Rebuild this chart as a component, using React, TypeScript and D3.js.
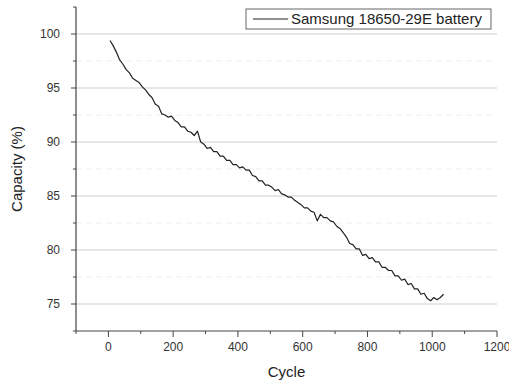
import React from "react";
import * as d3 from "d3";

const cycles = [
  5, 15, 25, 35, 45, 55, 65, 75, 85, 95,
  105, 115, 125, 135, 145, 155, 165, 175, 185, 195,
  205, 215, 225, 235, 245, 255, 265, 275, 285, 295,
  305, 315, 325, 335, 345, 355, 365, 375, 385, 395,
  405, 415, 425, 435, 445, 455, 465, 475, 485, 495,
  505, 515, 525, 535, 545, 555, 565, 575, 585, 595,
  605, 615, 625, 635, 645, 655, 665, 675, 685, 695,
  705, 715, 725, 735, 745, 755, 765, 775, 785, 795,
  805, 815, 825, 835, 845, 855, 865, 875, 885, 895,
  905, 915, 925, 935, 945, 955, 965, 975, 985, 995,
  1005, 1015, 1025, 1035,
];

const capacity = [
  99.4, 98.9, 98.3, 97.6, 97.2, 96.7, 96.4, 95.9, 95.7, 95.5,
  95.1, 94.8, 94.4, 94.1, 93.5, 93.3, 92.6, 92.5, 92.3, 92.4,
  92.0, 91.8, 91.4, 91.4, 91.0, 90.9, 90.6, 91.0, 90.0, 89.8,
  89.4, 89.5, 89.1, 89.1, 88.7, 88.7, 88.3, 88.3, 87.9, 87.9,
  87.6, 87.7, 87.4, 87.4, 86.9, 86.8, 86.4, 86.4, 86.0, 86.0,
  85.8, 85.5, 85.6, 85.2, 85.1, 84.9, 84.9, 84.6, 84.4, 84.2,
  83.9, 83.9, 83.6, 83.5, 82.7, 83.3, 83.0, 83.0, 82.7, 82.6,
  82.2, 82.0, 81.6, 81.2, 80.6, 80.5, 80.1, 80.1, 79.5, 79.6,
  79.2, 79.3, 78.9, 78.9, 78.4, 78.4, 78.1, 78.1, 77.6, 77.6,
  77.2, 77.3, 76.8, 76.9, 76.4, 76.4, 75.9, 76.0, 75.5, 75.3,
  75.6, 75.4, 75.6, 75.9,
];

const xTicks = [0, 200, 400, 600, 800, 1000, 1200];
const xMinorTicks = [-100, 100, 300, 500, 700, 900, 1100];
const yTicks = [75, 80, 85, 90, 95, 100];
const yMinorTicks = [72.5, 77.5, 82.5, 87.5, 92.5, 97.5, 102.5];
const seriesName = "Samsung 18650-29E battery";
const xTitle = "Cycle";
const yTitle = "Capacity (%)";

export default function App() {
  const W = 509;
  const H = 383;
  const left = 76;
  const right = 497;
  const top = 7;
  const bottom = 331;

  const x = d3.scaleLinear().domain([-100, 1200]).range([left, right]);
  const y = d3.scaleLinear().domain([72.5, 102.5]).range([bottom, top]);

  const data = cycles.map((c, i) => ({ c, v: capacity[i] }));
  const line = d3
    .line<{ c: number; v: number }>()
    .x((d) => x(d.c))
    .y((d) => y(d.v));

  const font = "Arial, 'Liberation Sans', sans-serif";
  const axisColor = "#444";

  return (
    <svg
      width={W}
      height={H}
      style={{ position: "absolute", left: 0, top: 0, background: "#fff" }}
      fontFamily={font}
    >
      <rect x={0} y={0} width={W} height={H} fill="#fff" />
      {yMinorTicks.slice(1, -1).map((t) => (
        <line
          key={"gm" + t}
          x1={left}
          x2={right}
          y1={y(t)}
          y2={y(t)}
          stroke="#efefef"
          strokeWidth={1}
          strokeDasharray="6,4"
        />
      ))}
      {yTicks.map((t) => (
        <line
          key={"g" + t}
          x1={left}
          x2={right}
          y1={y(t)}
          y2={y(t)}
          stroke="#cfcfcf"
          strokeWidth={1}
        />
      ))}
      <path
        d={line(data) || ""}
        fill="none"
        stroke="#222"
        strokeWidth={1.2}
        strokeLinejoin="round"
      />
      <line x1={left} x2={left} y1={top} y2={bottom} stroke={axisColor} strokeWidth={1.2} />
      <line x1={left} x2={right} y1={bottom} y2={bottom} stroke={axisColor} strokeWidth={1.2} />
      {yTicks.map((t) => (
        <g key={"yt" + t}>
          <line x1={left - 5} x2={left} y1={y(t)} y2={y(t)} stroke={axisColor} />
          <text x={left - 16} y={y(t)} dy="0.35em" textAnchor="end" fontSize={12} fill="#333">
            {t}
          </text>
        </g>
      ))}
      {yMinorTicks.map((t) => (
        <line key={"ym" + t} x1={left - 3} x2={left} y1={y(t)} y2={y(t)} stroke={axisColor} />
      ))}
      {xTicks.map((t) => (
        <g key={"xt" + t}>
          <line x1={x(t)} x2={x(t)} y1={bottom} y2={bottom + 6} stroke={axisColor} />
          <text x={x(t)} y={bottom + 20} textAnchor="middle" fontSize={12} fill="#333">
            {t}
          </text>
        </g>
      ))}
      {xMinorTicks.map((t) => (
        <line key={"xm" + t} x1={x(t)} x2={x(t)} y1={bottom} y2={bottom + 3} stroke={axisColor} />
      ))}
      <text x={(left + right) / 2} y={377} textAnchor="middle" fontSize={15} fill="#222">
        {xTitle}
      </text>
      <text
        transform={`translate(22, ${(top + bottom) / 2}) rotate(-90)`}
        textAnchor="middle"
        fontSize={15}
        fill="#222"
      >
        {yTitle}
      </text>
      <rect x={246} y={9} width={245} height={20} fill="#fff" stroke="#666" strokeWidth={1} />
      <line x1={253} x2={288} y1={19} y2={19} stroke="#222" strokeWidth={1.1} />
      <text x={291} y={19} dy="0.35em" fontSize={15} fill="#222">
        {seriesName}
      </text>
    </svg>
  );
}
